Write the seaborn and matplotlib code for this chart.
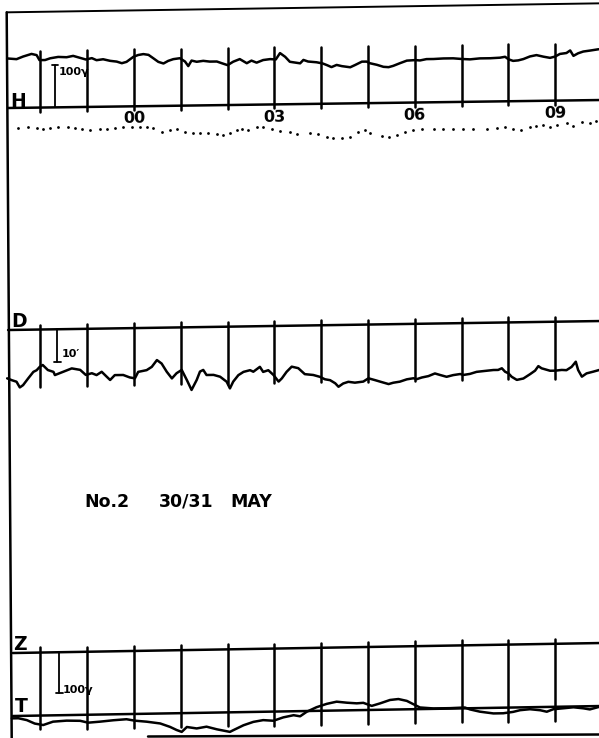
import numpy as np
import pandas as pd
import matplotlib
matplotlib.use("Agg")
import matplotlib.pyplot as plt
import seaborn as sns

# ---------------- data ----------------
# H trace: hours (UT, relative to 00h) and deflection above H baseline in gamma
H_hours = [-2.71,-2.51,-2.37,-2.19,-2.08,-2.02,-1.90,-1.79,-1.62,-1.44,
           -1.30,-1.12,-1.03,-0.90,-0.80,-0.66,-0.51,-0.37,-0.26,-0.16,
           -0.01,0.09,0.20,0.31,0.41,0.52,0.63,0.73,0.84,0.98,
           1.09,1.16,1.23,1.34,1.48,1.62,1.77,1.87,2.00,2.12,
           2.26,2.41,2.51,2.62,2.76,2.91,3.03,3.12,3.23,3.33,
           3.55,3.62,3.72,3.90,4.03,4.12,4.22,4.33,4.44,4.62,
           4.72,4.87,4.97,5.04,5.19,5.33,5.44,5.54,5.68,5.83,
           6.01,6.11,6.25,6.40,6.61,6.82,7.02,7.18,7.39,7.61,
           7.82,7.93,8.00,8.10,8.21,8.32,8.46,8.60,8.75,8.89,
           9.00,9.10,9.24,9.32,9.39,9.49,9.60,9.74,9.93]
H_gamma = [118,116,122,128,125,113,113,117,120,119,
           122,116,113,116,111,113,109,107,103,106,
           118,122,124,122,114,105,101,107,111,113,
           105,94,107,104,106,104,104,100,95,103,
           109,99,105,100,106,108,107,122,113,101,
           97,105,101,99,96,92,87,92,89,86,
           91,99,99,95,91,86,85,88,94,100,
           101,100,103,103,104,104,102,101,103,103,
           104,106,100,96,97,100,106,109,105,102,
           105,111,113,119,106,112,116,118,121]

# dotted H base-line record (gamma relative to H baseline)
dot_hours = [-2.47,-2.26,-2.08,-1.94,-1.79,-1.62,-1.40,-1.26,-1.12,-0.94,
             -0.73,-0.58,-0.41,-0.23,-0.05,0.13,0.27,0.41,0.59,0.77,
             0.91,1.09,1.27,1.41,1.59,1.77,1.91,2.05,2.20,2.30,
             2.44,2.62,2.76,2.94,3.12,3.33,3.48,
             3.76,3.94,4.12,4.26,4.44,4.62,4.79,4.94,5.04,5.29,
             5.44,5.61,5.79,5.97,6.15,6.40,6.61,6.82,7.04,7.25,
             7.54,7.75,7.93,8.10,8.28,8.46,8.60,8.75,8.89,9.04,
             9.25,9.39,9.57,9.74,9.88]
dot_gamma = [-49,-45,-49,-52,-50,-48,-48,-50,-53,-55,
             -54,-53,-52,-50,-49,-49,-50,-53,-61,-58,
             -56,-62,-65,-66,-67,-69,-71,-66,-60,-57,
             -60,-54,-53,-59,-63,-65,-71,
             -69,-72,-79,-83,-83,-81,-68,-64,-72,-79,
             -82,-77,-69,-65,-64,-63,-64,-64,-64,-65,
             -65,-64,-62,-67,-69,-61,-59,-57,-63,-58,
             -54,-62,-51,-55,-51]

# D trace: declination relative to D baseline, arc-minutes
D_hours = [-2.71,-2.61,-2.51,-2.44,-2.37,-2.26,-2.15,-2.08,-2.01,-1.95,
           -1.84,-1.72,-1.69,-1.51,-1.33,-1.15,-1.03,-0.90,-0.80,-0.69,
           -0.58,-0.51,-0.41,-0.23,-0.09,0.02,0.09,0.27,0.38,0.49,
           0.59,0.70,0.81,0.91,1.02,1.13,1.23,1.34,1.41,1.48,
           1.55,1.70,1.84,1.98,2.05,2.12,2.23,2.34,2.48,2.55,
           2.69,2.76,2.87,2.98,3.09,3.16,3.26,3.37,3.51,3.65,
           3.83,3.97,4.08,4.19,4.30,4.37,4.47,4.58,4.72,4.90,
           5.01,5.15,5.26,5.44,5.54,5.68,5.83,5.97,6.04,6.15,
           6.29,6.43,6.54,6.68,6.82,6.97,7.04,7.18,7.32,7.46,
           7.68,7.78,7.86,7.93,8.00,8.07,8.18,8.32,8.46,8.57,
           8.64,8.71,8.89,9.00,9.14,9.24,9.35,9.44,9.49,9.57,
           9.67,9.81,9.94]
D_minutes = [-15.1,-15.7,-16.2,-18.0,-17.3,-15.2,-13.2,-12.7,-11.6,-11.1,
             -12.7,-13.3,-14.3,-13.3,-12.3,-12.8,-14.4,-13.9,-14.5,-13.5,
             -15.1,-16.1,-14.6,-14.6,-15.4,-15.7,-13.7,-13.2,-12.2,-10.1,
             -11.2,-13.8,-15.9,-14.3,-13.3,-16.5,-19.6,-16.5,-13.9,-13.4,
             -15.0,-15.0,-15.6,-17.2,-19.3,-17.2,-15.2,-14.2,-13.7,-14.2,
             -12.7,-14.3,-13.8,-15.3,-17.4,-16.4,-14.4,-12.8,-13.3,-15.2,
             -15.5,-16.1,-16.9,-17.2,-18.2,-19.3,-18.3,-17.8,-18.1,-17.8,
             -16.8,-17.4,-17.9,-18.7,-18.3,-18.0,-17.3,-17.0,-17.3,-16.8,
             -16.4,-15.6,-16.1,-16.7,-16.2,-15.9,-16.2,-15.9,-15.3,-15.1,
             -14.8,-14.8,-14.3,-15.4,-15.9,-17.0,-18.0,-17.6,-16.3,-15.2,
             -13.8,-14.5,-15.3,-15.3,-15.1,-15.2,-14.2,-12.6,-15.2,-17.3,
             -16.3,-15.8,-15.3]

# T trace: gamma relative to T baseline
T_hours = [-2.61,-2.47,-2.29,-2.12,-1.94,-1.73,-1.44,-1.15,-0.98,-0.73,
           -0.44,-0.16,0.02,0.27,0.56,0.77,0.91,1.02,1.13,1.34,
           1.55,1.77,2.05,2.12,2.34,2.55,2.76,2.98,3.19,3.41,
           3.55,3.69,3.90,4.12,4.33,4.55,4.76,4.90,5.08,5.26,
           5.47,5.65,5.83,6.01,6.11,6.40,6.75,7.07,7.18,7.39,
           7.68,7.89,8.10,8.25,8.46,8.68,8.82,8.96,9.18,9.39,
           9.60,9.74,9.94]
T_gamma = [-6,-6,-11,-20,-24,-16,-14,-15,-20,-18,
           -15,-13,-17,-20,-25,-34,-42,-47,-35,-39,
           -35,-42,-49,-45,-33,-25,-21,-23,-15,-10,
           -13,-2,9,17,22,19,17,18,10,16,
           24,26,21,10,4,1,1,2,-3,-9,
           -14,-14,-11,-7,-5,-8,-12,-6,-4,-2,
           -5,-8,-2]

tick_hours = [-2, -1, 0, 1, 2, 3, 4, 5, 6, 7, 8, 9]
label_hours = [0, 3, 6, 9]
label_texts = ["00", "03", "06", "09"]
title_parts = ["No.2", "30/31", "MAY"]
title_hours = [-1.05, 0.54, 2.05]
panel_labels = ["H", "D", "Z", "T"]
scale_texts = ["100γ", "10′", "100γ"]

# ---------------- layout (page units, pixels from top) ----------------
X0, X1 = -2.863, 9.936
TOP_BASE = 10.4
H_BASE, D_BASE, Z_BASE, T_BASE = 106.3, 328.1, 650.9, 713.9
TILT_H, TILT_D, TILT_Z = -0.63, -0.71, -0.79
H_SCALE, D_SCALE, T_SCALE = 0.42, 3.2, 0.40   # px per unit
LEFT_H = -2.72


def base(b0, tilt, h):
    return b0 + tilt * np.asarray(h, dtype=float)


sns.set_theme(style="white")
plt.rcParams["font.family"] = ["DejaVu Sans"]

fig = plt.figure(figsize=(5.99, 7.38), dpi=100)
ax = fig.add_axes([0, 0, 1, 1])

K = "black"
LW = 1.8

hh = np.array([LEFT_H + 0.03, X1])
# frame top, baselines
ax.plot([LEFT_H, X1], base(TOP_BASE, TILT_D, [LEFT_H, X1]), color=K, lw=1.4)
ax.plot(hh, base(H_BASE, TILT_H, hh), color=K, lw=LW)
ax.plot(hh, base(D_BASE, TILT_D, hh), color=K, lw=LW)
ax.plot(hh + np.array([0.1, 0]), base(Z_BASE, TILT_Z, hh), color=K, lw=LW)
ax.plot(hh + np.array([0.1, 0]), base(T_BASE, TILT_Z, hh), color=K, lw=LW)
# left edge and bottom edge
ax.plot([LEFT_H, -2.613], [base(TOP_BASE, TILT_D, LEFT_H), 738], color=K, lw=LW)
ax.plot([0.30, X1], [736.5, 734.5], color=K, lw=LW)

# hour marks
for h in tick_hours:
    hb = base(H_BASE, TILT_H, h)
    ax.plot([h, h], [hb - 57, hb + 4], color=K, lw=LW)
    db = base(D_BASE, TILT_D, h)
    ax.plot([h, h], [db - 5, db + 57], color=K, lw=LW)
    zb = base(Z_BASE, TILT_Z, h)
    tb = base(T_BASE, TILT_Z, h)
    ax.plot([h, h], [zb - 5, tb + 14], color=K, lw=LW)

# traces
dfH = pd.DataFrame({"h": H_hours, "y": base(H_BASE, TILT_H, H_hours) - np.array(H_gamma) * H_SCALE})
sns.lineplot(data=dfH, x="h", y="y", ax=ax, color=K, lw=LW, sort=False, estimator=None)
dfD = pd.DataFrame({"h": D_hours, "y": base(D_BASE, TILT_D, D_hours) - np.array(D_minutes) * D_SCALE})
sns.lineplot(data=dfD, x="h", y="y", ax=ax, color=K, lw=LW, sort=False, estimator=None)
dfT = pd.DataFrame({"h": T_hours, "y": base(T_BASE, TILT_Z, T_hours) - np.array(T_gamma) * T_SCALE})
sns.lineplot(data=dfT, x="h", y="y", ax=ax, color=K, lw=LW, sort=False, estimator=None)
dfP = pd.DataFrame({"h": dot_hours, "y": base(H_BASE, TILT_H, dot_hours) - np.array(dot_gamma) * H_SCALE})
sns.scatterplot(data=dfP, x="h", y="y", ax=ax, color=K, s=4, linewidth=0)
ax.set_xlim(X0, X1)
ax.set_ylim(738, 0)
ax.axis("off")

# hour labels
for h, t in zip(label_hours, label_texts):
    ax.text(h, base(H_BASE, TILT_H, h) + 12.5, t, ha="center", va="center",
            fontsize=11.5, fontweight="bold", color=K, rotation=0.8)

# panel letters
lab_pos = [(-2.65, 107), (-2.62, 327), (-2.58, 650), (-2.55, 712)]
for t, (x, y) in zip(panel_labels, lab_pos):
    ax.text(x, y, t, ha="left", va="baseline", fontsize=13.5, fontweight="bold", color=K)

# scale bars
cap = 0.07
hx = -1.688
ax.plot([hx, hx], [65, base(H_BASE, TILT_H, hx)], color=K, lw=1.3)
ax.plot([hx - cap, hx + cap], [65, 65], color=K, lw=1.3)
ax.text(-1.60, 72, scale_texts[0], ha="left", va="center", fontsize=8, fontweight="bold", color=K)

dx = -1.639
ax.plot([dx, dx], [base(D_BASE, TILT_D, dx), 361.7], color=K, lw=1.3)
ax.plot([dx - cap, dx + cap], [361.7, 361.7], color=K, lw=1.3)
ax.text(-1.54, 354, scale_texts[1], ha="left", va="center", fontsize=8, fontweight="bold", color=K)

zx = -1.596
ax.plot([zx, zx], [base(Z_BASE, TILT_Z, zx), 693], color=K, lw=1.3)
ax.plot([zx - cap, zx + cap], [693, 693], color=K, lw=1.3)
ax.text(-1.52, 690, scale_texts[2], ha="left", va="center", fontsize=8, fontweight="bold", color=K)

# title
for t, x in zip(title_parts, title_hours):
    ax.text(x, 507, t, ha="left", va="baseline", fontsize=12.5, fontweight="bold", color=K)

fig.savefig("out.png", dpi=100, facecolor="white")
